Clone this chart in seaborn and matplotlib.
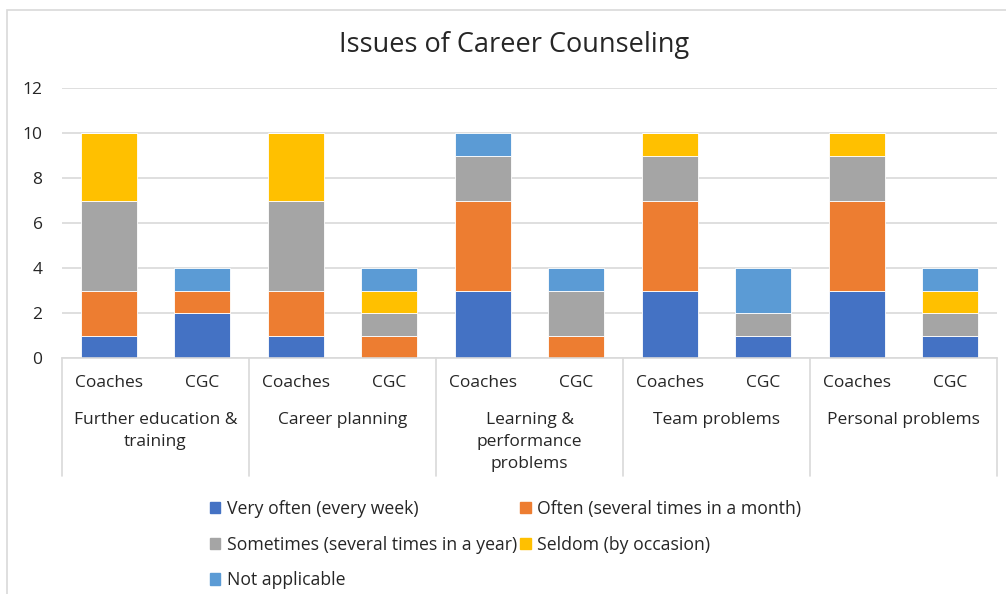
import numpy as np
import pandas as pd
import matplotlib
matplotlib.use("Agg")
import matplotlib.pyplot as plt
import matplotlib.transforms as mtransforms
from matplotlib.patches import Rectangle, Patch
import seaborn as sns

groups = ["Further education &\ntraining", "Career planning",
          "Learning &\nperformance\nproblems", "Team problems", "Personal problems"]
respondents = ["Coaches", "CGC"]
levels = ["Very often (every week)", "Often (several times in a month)",
          "Sometimes (several times in a year)", "Seldom (by occasion)", "Not applicable"]

very_often = [1, 2, 1, 0, 3, 0, 3, 1, 3, 1]
often = [2, 1, 2, 1, 4, 1, 4, 0, 4, 0]
sometimes = [4, 0, 4, 1, 2, 2, 2, 1, 2, 1]
seldom = [3, 0, 3, 1, 0, 0, 1, 0, 1, 1]
not_applicable = [0, 1, 0, 1, 1, 1, 0, 2, 0, 1]

colors = ["#4472C4", "#ED7D31", "#A5A5A5", "#FFC000", "#5B9BD5"]
text_col = "#262626"

sns.set_theme(style="white")
plt.rcParams["font.family"] = ["Open Sans", "DejaVu Sans"]

bar_ids = [f"{g}|{r}" for g in range(len(groups)) for r in respondents]
df = pd.DataFrame({"bar": bar_ids, "v0": very_often, "v1": often,
                   "v2": sometimes, "v3": seldom, "v4": not_applicable})

fig = plt.figure(figsize=(10.06, 5.94), dpi=100)
ax = fig.add_axes([62 / 1006, 1 - 358 / 594, (997 - 62) / 1006, 270 / 594])

bottom = np.zeros(len(df))
for i, (lvl, col) in enumerate(zip(levels, colors)):
    vals = df[f"v{i}"].to_numpy(dtype=float)
    sns.barplot(data=df, x="bar", y=f"v{i}", order=bar_ids, bottom=bottom,
                color=col, saturation=1, width=0.6, errorbar=None, ax=ax,
                linewidth=0.6, edgecolor="white")
    bottom += vals

ax.set_xlim(-0.5, len(bar_ids) - 0.5)
ax.set_ylim(0, 12)
ax.set_yticks(range(0, 13, 2))
ax.set_xticks([])
ax.set_xlabel("")
ax.set_ylabel("")
ax.yaxis.grid(True, color="#d9d9d9", linewidth=1.2)
ax.set_axisbelow(True)
for s in ["top", "right", "left"]:
    ax.spines[s].set_visible(False)
ax.spines["bottom"].set_color("#d9d9d9")
ax.spines["bottom"].set_linewidth(1.2)
ax.tick_params(axis="y", length=0, pad=14, labelsize=12.5, labelcolor=text_col)

# two-level category axis
trans = mtransforms.blended_transform_factory(ax.transData, ax.transAxes)
for k, b in enumerate(bar_ids):
    ax.text(k, -0.093, b.split("|")[1], transform=trans, ha="center", va="center",
            fontsize=12.5, color=text_col)
for g, name in enumerate(groups):
    ax.text(2 * g + 0.5, -0.2, name, transform=trans, ha="center", va="top",
            fontsize=12.5, color=text_col, linespacing=1.5)
for g in range(len(groups) + 1):
    ax.plot([2 * g - 0.5, 2 * g - 0.5], [0, -0.437], transform=trans,
            color="#d9d9d9", linewidth=1.2, clip_on=False)

fig.text(514 / 1006, 1 - 45 / 594, "Issues of Career Counseling", ha="center",
         va="center", fontsize=19.5, color=text_col)

# legend in row-major order
handles = [Patch(color=c) for c in colors]
order = [0, 2, 4, 1, 3]
fig.legend([handles[i] for i in order], [levels[i] for i in order],
           loc="upper left", bbox_to_anchor=(194 / 1006, 1 - 484 / 594),
           ncol=2, frameon=False, fontsize=12.7, handlelength=0.6, handleheight=0.6,
           handletextpad=0.35, columnspacing=0.2, labelspacing=1.0,
           labelcolor=text_col)

fig.patches.append(Rectangle((7 / 1006, -0.1), 1.2, 1 - 10 / 594 + 0.1,
                             transform=fig.transFigure, fill=False,
                             edgecolor="#d9d9d9", linewidth=1.2))

fig.savefig("out.png", dpi=100)
